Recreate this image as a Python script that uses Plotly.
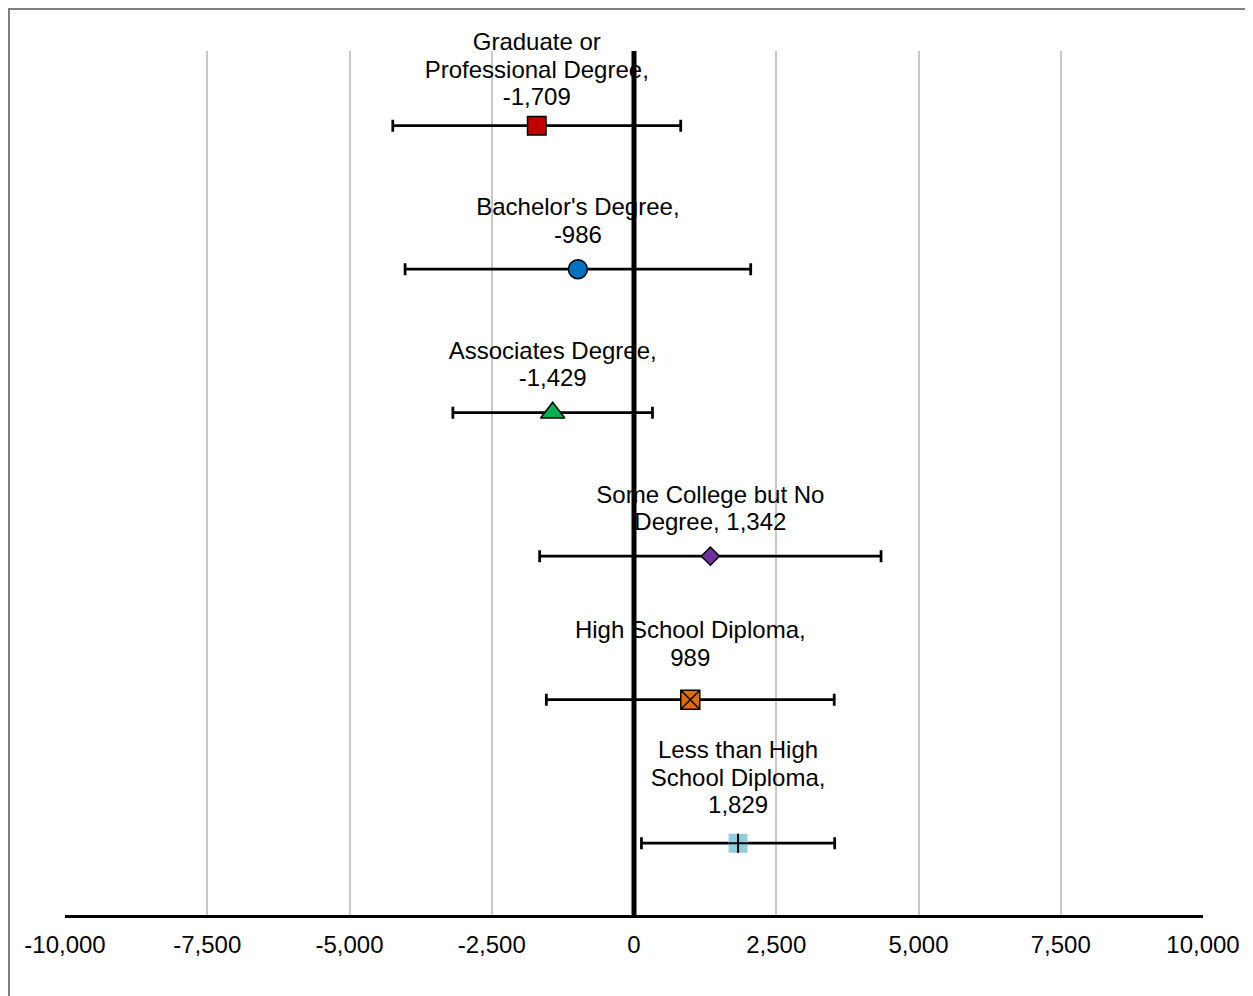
import plotly.graph_objects as go

categories = ["Graduate or Professional Degree", "Bachelor's Degree", "Associates Degree",
              "Some College but No Degree", "High School Diploma", "Less than High School Diploma"]
values = [-1709, -986, -1429, 1342, 989, 1829]
errors = [2530, 3037, 1754, 3000, 2530, 1698]
label_lines = [["Graduate or", "Professional Degree,", "-1,709"],
               ["Bachelor's Degree,", "-986"],
               ["Associates Degree,", "-1,429"],
               ["Some College but No", "Degree, 1,342"],
               ["High School Diploma,", "989"],
               ["Less than High", "School Diploma,", "1,829"]]
positions = [6, 5, 4, 3, 2, 1]
tick_vals = [-10000, -7500, -5000, -2500, 0, 2500, 5000, 7500, 10000]
tick_text = ["-10,000", "-7,500", "-5,000", "-2,500", "0", "2,500", "5,000", "7,500", "10,000"]

# styles
symbols = ["square", "circle", "triangle-up", "diamond", "square-x", "square"]
fills = ["#C00000", "#0070C0", "#00B050", "#7030A0", "#E36C09", "#92CDDC"]
sizes = [18.5, 19, 21, 14, 19, 19]
line_w = [1.5, 1.5, 1.5, 1.5, 1.5, 0]
label_gap = [23, 32.6, 32.6, 31.4, 44.7, 38.5]   # invisible marker size -> label offset

FONT = "Liberation Sans, Arial, sans-serif"
FS = 24          # glyph size
LINE_FS = 21     # controls line spacing (1.3 em)
Y_TOP = 6.52

W, H = 1245, 988
L, R, T, B = 57, 50, 43, 81
PW, PH = W - L - R, H - T - B

fig = go.Figure()
for i in range(len(categories)):
    fig.add_trace(go.Scatter(
        x=[values[i]], y=[positions[i]], mode="markers",
        marker=dict(symbol=symbols[i], size=sizes[i], color=fills[i],
                    line=dict(color="#000000", width=line_w[i])),
        error_x=dict(type="data", array=[errors[i]], symmetric=True,
                     color="#000000", thickness=2.75, width=6),
        name=categories[i], showlegend=False, hoverinfo="x+name",
    ))

# black cross on the light blue square marker (Less than High School Diploma)
fig.add_trace(go.Scatter(
    x=[values[5]], y=[positions[5]], mode="markers",
    marker=dict(symbol="cross-thin", size=13.5, color="#000000",
                line=dict(color="#000000", width=2)),
    showlegend=False, hoverinfo="skip",
))

# data labels
texts = ["<br>".join('<span style="font-size:%dpx">%s</span>' % (FS, ln) for ln in lines)
         for lines in label_lines]
fig.add_trace(go.Scatter(
    x=values, y=positions, mode="markers+text", text=texts,
    textposition="top center", cliponaxis=False,
    textfont=dict(family=FONT, size=LINE_FS, color="#000000"),
    marker=dict(size=label_gap, color="rgba(0,0,0,0)", opacity=0),
    showlegend=False, hoverinfo="skip",
))

# vertical zero line drawn on top
fig.add_trace(go.Scatter(
    x=[0, 0], y=[0.5, Y_TOP], mode="lines",
    line=dict(color="#000000", width=5),
    showlegend=False, hoverinfo="skip",
))

fig.update_layout(
    width=W, height=H,
    margin=dict(l=L, r=R, t=T, b=B),
    paper_bgcolor="white", plot_bgcolor="white",
    font=dict(family=FONT, size=FS, color="#000000"),
    xaxis=dict(range=[-10000, 10000], tickvals=tick_vals, ticktext=tick_text,
               showgrid=True, gridcolor="#C8C8C8", gridwidth=1.5,
               zeroline=False, showline=True, linecolor="#000000", linewidth=3,
               ticks="", ticklabelstandoff=6,
               tickfont=dict(family=FONT, size=FS, color="#000000")),
    yaxis=dict(range=[0.5, Y_TOP], showgrid=False, zeroline=False,
               showticklabels=False, showline=False, ticks=""),
    shapes=[dict(type="rect", xref="paper", yref="paper",
                 x0=(1 - L) / PW, x1=1.2, y0=-0.3, y1=1 + (T - 1) / PH,
                 line=dict(color="#808080", width=2), fillcolor="rgba(0,0,0,0)",
                 layer="below")],
)

fig.write_html("out.html")
